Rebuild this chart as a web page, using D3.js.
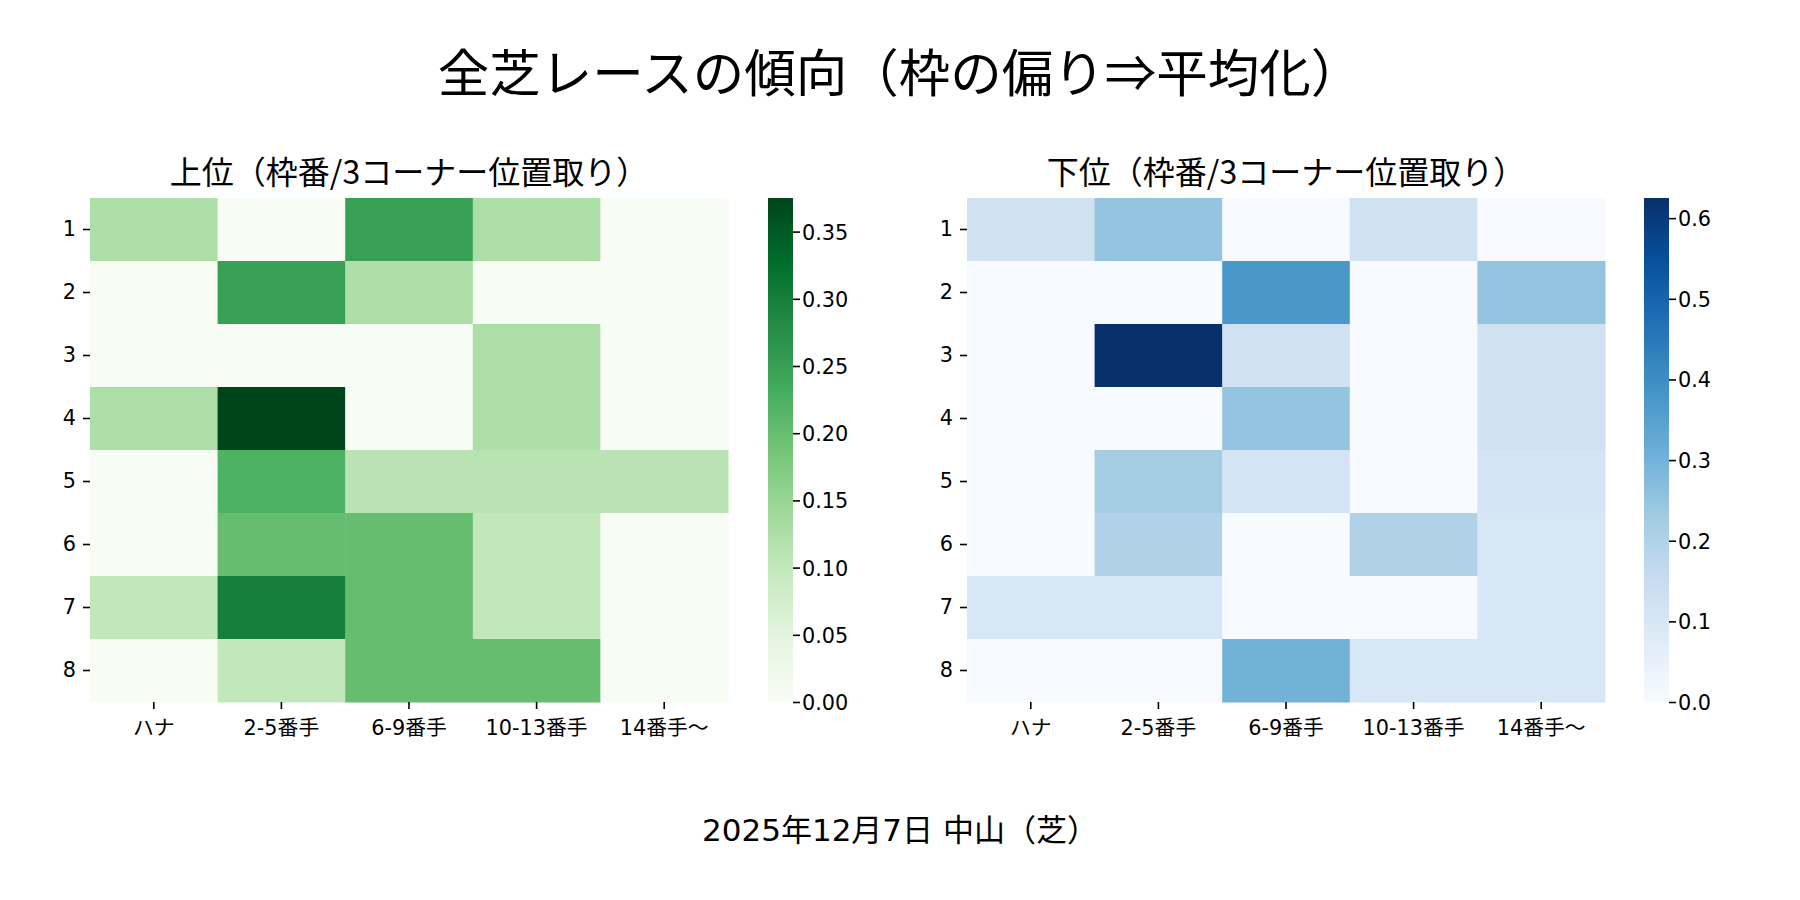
<!DOCTYPE html>
<html>
<head>
<meta charset="utf-8">
<script src="https://cdn.jsdelivr.net/npm/d3@7"></script>
<style>
  body { margin: 0; background: #fff; }
  svg { display: block; font-family: "DejaVu Sans", "Noto Sans CJK JP", sans-serif; }
</style>
</head>
<body>
<svg id="chart" width="1800" height="900"></svg>
<script>
// data
const rowLabels = ["1", "2", "3", "4", "5", "6", "7", "8"];
const colLabels = ["ハナ", "2-5番手", "6-9番手", "10-13番手", "14番手〜"];

// 上位 (top finishers), rows = 枠番 1..8
const topValues = [
  [0.125, 0,     0.25,  0.125, 0],
  [0,     0.25,  0.125, 0,     0],
  [0,     0,     0,     0.125, 0],
  [0.125, 0.375, 0,     0.125, 0],
  [0,     0.222, 0.111, 0.111, 0.111],
  [0,     0.2,   0.2,   0.1,   0],
  [0.1,   0.3,   0.2,   0.1,   0],
  [0,     0.1,   0.2,   0.2,   0]
];

// 下位 (bottom finishers)
const bottomValues = [
  [0.125, 0.25,  0,     0.125, 0],
  [0,     0,     0.375, 0,     0.25],
  [0,     0.625, 0.125, 0,     0.125],
  [0,     0,     0.25,  0,     0.125],
  [0,     0.222, 0.111, 0,     0.111],
  [0,     0.2,   0,     0.2,   0.1],
  [0.1,   0.1,   0,     0,     0.1],
  [0,     0,     0.3,   0.1,   0.1]
];

const topTicks = [0, 0.05, 0.1, 0.15, 0.2, 0.25, 0.3, 0.35];
const bottomTicks = [0, 0.1, 0.2, 0.3, 0.4, 0.5, 0.6];

const mainTitle = "全芝レースの傾向（枠の偏り⇒平均化）";
const footer = "2025年12月7日 中山（芝）";

// matplotlib-style colormaps (ColorBrewer 9 steps, linear)
const GREENS = ["#f7fcf5", "#e5f5e0", "#c7e9c0", "#a1d99b", "#74c476", "#41ab5d", "#238b45", "#006d2c", "#00441b"];
const BLUES = ["#f7fbff", "#deebf7", "#c6dbef", "#9ecae1", "#6baed6", "#4292c6", "#2171b5", "#08519c", "#08306b"];

const svg = d3.select("#chart");
const defs = svg.append("defs");

const TICK_FONT = 20.8;

svg.append("text")
  .attr("x", 900)
  .attr("y", 92)
  .attr("text-anchor", "middle")
  .attr("font-size", 51.5)
  .attr("font-family", "Noto Sans CJK JP, sans-serif")
  .text(mainTitle);

svg.append("text")
  .attr("x", 900)
  .attr("y", 841)
  .attr("text-anchor", "middle")
  .attr("font-size", 31)
  .text(footer);

function drawHeatmap(opts) {
  const { id, values, palette, ticks, fmt, title, x0, x1, cbX } = opts;
  const y0 = 198, y1 = 702, cbW = 25;

  const vmax = d3.max(values.flat());

  const color = d3.scaleLinear()
    .domain(palette.map((_, i) => (i / (palette.length - 1)) * vmax))
    .range(palette)
    .interpolate(d3.interpolateRgb);

  const x = d3.scaleBand().domain(colLabels).range([x0, x1]);
  const y = d3.scaleBand().domain(rowLabels).range([y0, y1]);

  const g = svg.append("g").attr("class", "heatmap-" + id);

  const cells = [];
  values.forEach((row, r) => row.forEach((v, c) => {
    cells.push({ row: rowLabels[r], col: colLabels[c], value: v });
  }));

  g.selectAll("rect.cell")
    .data(cells)
    .join("rect")
    .attr("class", "cell")
    .attr("x", (d) => x(d.col))
    .attr("y", (d) => y(d.row))
    .attr("width", x.bandwidth() + 0.5)
    .attr("height", y.bandwidth() + 0.5)
    .attr("fill", (d) => color(d.value));

  // axes
  const yAxis = g.append("g")
    .attr("transform", `translate(${x0},0)`)
    .call(d3.axisLeft(y).tickSize(7).tickPadding(7));
  const xAxis = g.append("g")
    .attr("transform", `translate(0,${y1})`)
    .call(d3.axisBottom(x).tickSize(7).tickPadding(7));

  [yAxis, xAxis].forEach((a) => {
    a.select(".domain").remove();
    a.selectAll(".tick line").attr("stroke", "#000").attr("stroke-width", 1.6);
    a.selectAll(".tick text")
      .attr("fill", "#000")
      .attr("font-size", TICK_FONT)
      .attr("font-family", "DejaVu Sans, Noto Sans CJK JP, sans-serif");
  });
  yAxis.selectAll(".tick text").attr("dy", "0.31em");
  xAxis.selectAll(".tick text").attr("dy", "0.9em");

  // subplot title
  g.append("text")
    .attr("x", (x0 + x1) / 2)
    .attr("y", 184)
    .attr("text-anchor", "middle")
    .attr("font-size", 32)
    .attr("font-family", "Noto Sans CJK JP, sans-serif")
    .text(title);

  // colorbar
  const grad = defs.append("linearGradient")
    .attr("id", "grad-" + id)
    .attr("x1", 0).attr("y1", 1).attr("x2", 0).attr("y2", 0);
  grad.selectAll("stop")
    .data(palette)
    .join("stop")
    .attr("offset", (d, i) => i / (palette.length - 1))
    .attr("stop-color", (d) => d);

  const cb = d3.scaleLinear().domain([0, vmax]).range([y1, y0]);

  g.append("rect")
    .attr("x", cbX)
    .attr("y", y0)
    .attr("width", cbW)
    .attr("height", y1 - y0)
    .attr("fill", `url(#grad-${id})`);

  const cbAxis = g.append("g")
    .attr("transform", `translate(${cbX + cbW},0)`)
    .call(d3.axisRight(cb).tickValues(ticks).tickFormat(d3.format(fmt)).tickSize(7).tickPadding(2));
  cbAxis.select(".domain").remove();
  cbAxis.selectAll(".tick line").attr("stroke", "#000").attr("stroke-width", 1.6);
  cbAxis.selectAll(".tick text")
    .attr("fill", "#000")
    .attr("font-size", TICK_FONT)
    .attr("font-family", "DejaVu Sans, sans-serif")
    .attr("dy", "0.36em");
}

drawHeatmap({
  id: "top",
  values: topValues,
  palette: GREENS,
  ticks: topTicks,
  fmt: ".2f",
  title: "上位（枠番/3コーナー位置取り）",
  x0: 90, x1: 728, cbX: 768
});

drawHeatmap({
  id: "bottom",
  values: bottomValues,
  palette: BLUES,
  ticks: bottomTicks,
  fmt: ".1f",
  title: "下位（枠番/3コーナー位置取り）",
  x0: 967, x1: 1605, cbX: 1644
});
</script>
</body>
</html>
